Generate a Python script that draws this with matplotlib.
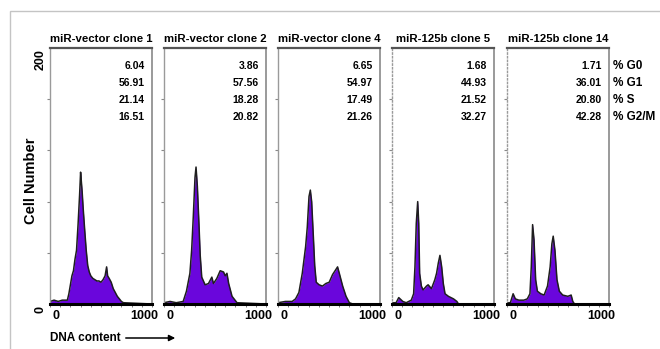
import matplotlib.pyplot as plt
from matplotlib.patches import Rectangle, FancyArrowPatch

# ===============================
# DATA
# ===============================
titles = ["miR-vector clone 1", "miR-vector clone 2", "miR-vector clone 4",
          "miR-125b clone 5", "miR-125b clone 14"]

row_labels = ["% G0", "% G1", "% S", "% G2/M"]

pct = [
    ["6.04", "56.91", "21.14", "16.51"],
    ["3.86", "57.56", "18.28", "20.82"],
    ["6.65", "54.97", "17.49", "21.26"],
    ["1.68", "44.93", "21.52", "32.27"],
    ["1.71", "36.01", "20.80", "42.28"],
]

# DNA content channel / cell count pairs for each histogram
ch1 = [0, 40, 80, 120, 170, 185, 200, 215, 230, 245, 260, 275, 290, 300, 305, 315,
       325, 340, 355, 370, 385, 400, 420, 440, 460, 480, 500, 520, 540, 555, 565, 580,
       600, 620, 640, 660, 680, 700, 720, 1000]
cnt1 = [2, 3, 2, 3, 3, 8, 15, 22, 26, 35, 42, 62, 85, 103, 98, 88,
        75, 58, 42, 30, 25, 22, 20, 19, 18, 18, 17, 19, 22, 29, 22, 20,
        17, 12, 9, 6, 4, 2, 1, 0]

ch2 = [0, 60, 120, 188, 220, 254, 271, 287, 304, 314, 327, 343, 355, 370, 403, 436,
       469, 485, 518, 551, 584, 600, 617, 634, 667, 716, 1000]
cnt2 = [1, 2, 1, 2, 10, 24, 42, 68, 99, 107, 92, 62, 38, 21, 15, 16,
        21, 16, 20, 26, 25, 22, 24, 16, 6, 1, 0]

ch3 = [0, 73, 139, 172, 205, 238, 271, 287, 304, 317, 330, 347, 360, 375, 403, 436,
       469, 502, 535, 568, 584, 601, 634, 667, 700, 733, 1000]
cnt3 = [1, 2, 2, 4, 9, 24, 45, 60, 84, 89, 80, 52, 30, 17, 15, 14,
        16, 17, 23, 27, 29, 24, 14, 6, 1, 0, 0]

ch4 = [0, 40, 66, 106, 139, 189, 212, 225, 238, 252, 262, 271, 288, 305, 338,
       354, 387, 420, 437, 454, 470, 487, 503, 520, 553, 603, 636, 652, 1000]
cnt4 = [1, 1, 5, 2, 1, 3, 8, 29, 63, 80, 63, 24, 14, 11, 14,
        15, 12, 19, 24, 32, 38, 29, 16, 8, 6, 4, 2, 0, 0]

ch5 = [0, 33, 60, 82, 116, 165, 199, 225, 238, 251, 265, 281, 298, 331, 364,
       397, 423, 440, 453, 470, 490, 513, 546, 596, 629, 645, 662, 1000]
cnt5 = [1, 1, 8, 4, 3, 3, 4, 8, 29, 62, 50, 19, 10, 8, 7,
        14, 29, 47, 53, 42, 19, 10, 7, 6, 7, 2, 0, 0]

channels = [ch1, ch2, ch3, ch4, ch5]
counts = [cnt1, cnt2, cnt3, cnt4, cnt5]

# ===============================
# LAYOUT
# ===============================
W, H = 660, 349
FILL = "#6a06dc"
FONT = ["Liberation Sans", "DejaVu Sans"]

panel_left = [50, 164, 278, 392, 507]
panel_w = 102
panel_top, panel_bot = 48, 304

fig = plt.figure(figsize=(W / 100, H / 100), dpi=100)

# light frame round the figure
fig.patches.append(Rectangle((10 / W, -0.05), 1.1, 1 - 11 / H + 0.05,
                             transform=fig.transFigure, fill=False,
                             edgecolor="#c4c4c4", linewidth=1))

for i in range(5):
    ax = fig.add_axes([panel_left[i] / W, 1 - panel_bot / H,
                       panel_w / W, (panel_bot - panel_top) / H])
    ax.fill_between(channels[i], counts[i], 0, color=FILL, linewidth=0)
    ax.plot(channels[i], counts[i], color="#1e1e1e", linewidth=1.1)
    ax.set_xlim(0, 1000)
    ax.set_ylim(0, 200)

    ax.spines["top"].set_color("#555555")
    ax.spines["top"].set_linewidth(1.6)
    ax.spines["right"].set_color("#9a9a9a")
    ax.spines["right"].set_linewidth(1.4)
    ax.spines["left"].set_color("#9a9a9a")
    ax.spines["left"].set_linewidth(1.0)
    if i >= 3:
        ax.spines["left"].set_linestyle(":")
    ax.spines["bottom"].set_color("black")
    ax.spines["bottom"].set_linewidth(2.2)

    ax.set_yticks([40, 80, 120, 160])
    ax.set_yticklabels([])
    ax.tick_params(axis="y", length=2, width=0.8, color="#888888")
    ax.set_xticks(range(0, 1001, 100))
    ax.set_xticklabels([])
    ax.tick_params(axis="x", length=2, width=0.6, color="#666666")

    ax.set_title(titles[i], fontsize=8.2, fontweight="bold", family=FONT, pad=4)

    ax.text(0.02, -0.025, "0", transform=ax.transAxes, ha="left", va="top",
            fontsize=9, fontweight="bold", family=FONT)
    ax.text(1.06, -0.025, "1000", transform=ax.transAxes, ha="right", va="top",
            fontsize=9, fontweight="bold", family=FONT)

    for r, val in enumerate(pct[i]):
        ax.text(0.93, (panel_bot - (66 + 17 * r)) / (panel_bot - panel_top), val,
                transform=ax.transAxes, ha="right", va="center",
                fontsize=7.5, fontweight="bold", family=FONT)

    if i == 0:
        ax.text(-0.09, 0.955, "200", transform=ax.transAxes, rotation=90,
                ha="center", va="center", fontsize=9, fontweight="bold", family=FONT)
        ax.text(-0.09, -0.02, "0", transform=ax.transAxes, rotation=90,
                ha="center", va="center", fontsize=9, fontweight="bold", family=FONT)

for r, lab in enumerate(row_labels):
    fig.text(613 / W, 1 - (66 + 17 * r) / H, lab, ha="left", va="center",
             fontsize=8.5, fontweight="bold", family=FONT)

fig.text(31 / W, 1 - 181 / H, "Cell Number", rotation=90, ha="center", va="center",
         fontsize=10.5, fontweight="bold", family=FONT)

fig.text(50 / W, 1 - 338 / H, "DNA content", ha="left", va="center",
         fontsize=8.5, fontweight="bold", family=FONT)
fig.patches.append(FancyArrowPatch((123 / W, 1 - 338 / H), (178 / W, 1 - 338 / H),
                                   transform=fig.transFigure, arrowstyle="-|>",
                                   mutation_scale=9, color="black", linewidth=1.1))

fig.savefig("out.png", dpi=100)
